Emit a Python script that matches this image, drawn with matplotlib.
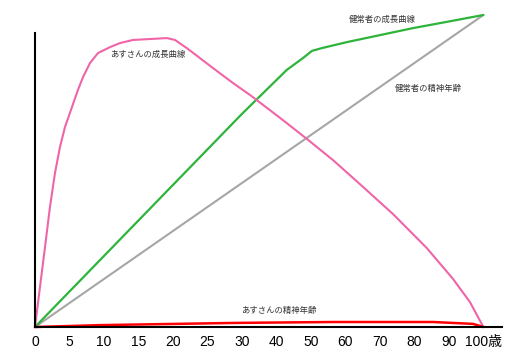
import numpy as np
import matplotlib
matplotlib.use('Agg')
import matplotlib.pyplot as plt

plt.rcParams['font.family'] = ['Liberation Sans', 'Noto Sans CJK JP', 'DejaVu Sans']

# 横軸の目盛り(30歳までは5刻み、それ以降は10刻み)
tick_ages = [0, 5, 10, 15, 20, 25, 30, 40, 50, 60, 70, 80, 90, 100]
tick_labels = ['0', '5', '10', '15', '20', '25', '30', '40', '50', '60', '70', '80', '90', '100歳']

# あすさんの成長曲線
asu_growth_age = [0, 0.72, 1.45, 2.17, 2.9, 3.62, 4.35, 5.36, 6.23, 6.96, 7.97, 9.13,
                  10.87, 12.32, 14.2, 16.67, 19.13, 20.3, 22.0, 23.9, 26.4, 28.7,
                  32.3, 41.9, 48.8, 56.4, 64.2, 73.8, 83.6, 91.2, 96.1, 100]
asu_growth = [0, 12.8, 25.6, 38.5, 49.4, 57.7, 64.1, 70.5, 76.0, 80.1, 84.6, 87.8,
              89.7, 91.0, 92.0, 92.3, 92.6, 92.0, 89.4, 86.2, 82.0, 78.2,
              74.4, 66.3, 60.3, 53.5, 45.8, 36.2, 25.3, 15.4, 8.0, 0]

# 健常者の成長曲線
healthy_growth_age = [0, 30, 43, 47.7, 50.3, 53.2, 60.4, 79.6, 89.4, 100]
healthy_growth = [0, 68.3, 82.4, 86.2, 88.5, 89.4, 91.3, 95.8, 97.8, 100]

# 健常者の精神年齢
healthy_mind_age = [0, 30, 100]
healthy_mind = [0, 46.15, 100]

# あすさんの精神年齢
asu_mind_age = [0, 9.4, 28.7, 56.4, 85.4, 97.0, 100]
asu_mind = [0, 0.6, 1.3, 1.6, 1.6, 1.0, 0]


def forward(a):
    a = np.asarray(a, dtype=float)
    return np.where(a <= 30, a / 5.0, 6 + (a - 30) / 10.0)


def inverse(p):
    p = np.asarray(p, dtype=float)
    return np.where(p <= 6, p * 5.0, 30 + (p - 6) * 10.0)


fig = plt.figure(figsize=(5.2, 3.62), dpi=100)
ax = fig.add_axes([35 / 520, 35 / 362, 467 / 520, 312 / 362])
ax.set_xscale('function', functions=(forward, inverse))

line_kw = dict(clip_on=False, solid_joinstyle='round', solid_capstyle='round')
ax.plot(healthy_mind_age, healthy_mind, color='#a6a6a6', lw=1.5, **line_kw)
ax.plot(healthy_growth_age, healthy_growth, color='#2db43a', lw=1.6, **line_kw)
ax.plot(asu_growth_age, asu_growth, color='#f064a8', lw=1.5, **line_kw)
ax.plot(asu_mind_age, asu_mind, color='#ff0000', lw=1.8, **line_kw)

ax.set_xlim(0, 105.4)
ax.set_ylim(0, 100)
ax.set_xticks(tick_ages)
ax.set_xticklabels(tick_labels)
ax.set_yticks([])
ax.tick_params(axis='x', length=0, pad=6, labelsize=10)

for s in ['top', 'right']:
    ax.spines[s].set_visible(False)
ax.spines['left'].set_bounds(0, 94.2)
ax.spines['left'].set_linewidth(1.5)
ax.spines['bottom'].set_linewidth(1.5)

kw = dict(fontsize=6, color='#333333', ha='center', va='center', family=['Noto Sans CJK JP'])
ax.text(16.4, 87.5, 'あすさんの成長曲線', **kw)
ax.text(70.6, 98.7, '健常者の成長曲線', **kw)
ax.text(83.9, 76.3, '健常者の精神年齢', **kw)
ax.text(40.7, 5.4, 'あすさんの精神年齢', **kw)

fig.savefig('out.png', dpi=100)
